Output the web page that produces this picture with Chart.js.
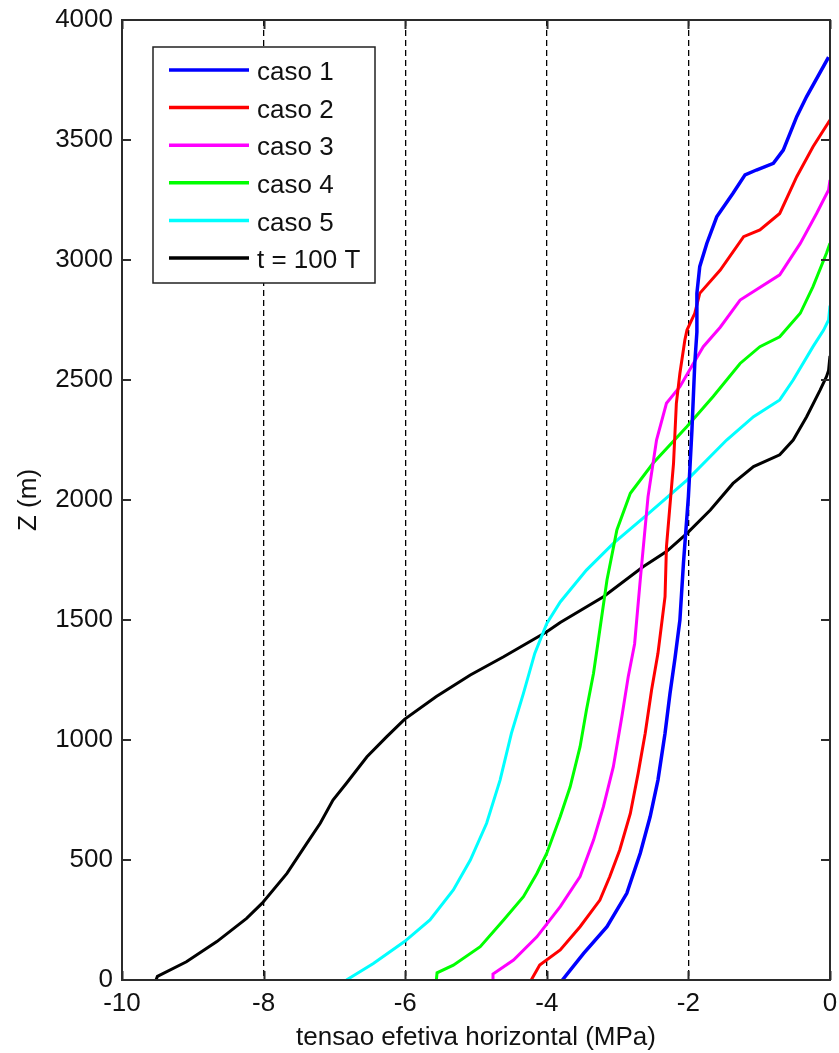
<!DOCTYPE html>
<html>
<head>
<meta charset="utf-8">
<script src="https://cdn.jsdelivr.net/npm/chart.js@4.4.1/dist/chart.umd.min.js"></script>
<style>
  html, body { margin: 0; padding: 0; background: #ffffff; }
  #plot { display: block; }
</style>
</head>
<body>
<canvas id="plot" width="839" height="1053"></canvas>
<script>
// Horizontal effective stress (MPa) against depth Z (m) for each case
const seriesLabels = ['caso 1', 'caso 2', 'caso 3', 'caso 4', 'caso 5', 't = 100 T'];
const seriesColors = ['#0000ff', '#ff0000', '#ff00ff', '#00ff00', '#00ffff', '#000000'];

const caso1X = [-3.78, -3.48, -3.15, -2.87, -2.68, -2.54, -2.43, -2.33, -2.26, -2.19, -2.12, -2.07, -2.00, -1.95, -1.91, -1.88, -1.88, -1.84, -1.74, -1.60, -1.37, -1.20, -1.04, -0.80, -0.66, -0.47, -0.33, -0.02];
const caso1Z = [0, 111, 222, 361, 528, 681, 833, 1028, 1194, 1340, 1500, 1736, 2014, 2292, 2569, 2700, 2861, 2972, 3069, 3180, 3278, 3355, 3375, 3403, 3458, 3597, 3681, 3845];

const caso2X = [-4.22, -4.10, -3.81, -3.53, -3.25, -3.11, -2.97, -2.82, -2.71, -2.61, -2.52, -2.43, -2.33, -2.31, -2.21, -2.17, -2.12, -2.05, -2.02, -1.91, -1.84, -1.55, -1.22, -0.99, -0.71, -0.47, -0.24, 0];
const caso2Z = [0, 62, 125, 222, 333, 431, 542, 694, 861, 1028, 1208, 1361, 1597, 1805, 2153, 2403, 2528, 2667, 2708, 2778, 2861, 2958, 3097, 3125, 3194, 3347, 3472, 3583];

const caso3X = [-4.77, -4.76, -4.47, -4.14, -3.81, -3.53, -3.34, -3.20, -3.06, -2.94, -2.85, -2.76, -2.68, -2.57, -2.45, -2.31, -2.12, -1.93, -1.79, -1.55, -1.27, -0.71, -0.42, -0.19, -0.02, 0];
const caso3Z = [0, 25, 83, 180, 306, 431, 583, 722, 889, 1097, 1264, 1400, 1667, 2014, 2250, 2403, 2472, 2569, 2639, 2720, 2833, 2938, 3069, 3194, 3292, 3333];

const caso4X = [-5.56, -5.55, -5.32, -4.94, -4.61, -4.33, -4.14, -4.00, -3.81, -3.67, -3.53, -3.44, -3.34, -3.28, -3.15, -3.01, -2.82, -2.50, -2.02, -1.65, -1.27, -0.99, -0.71, -0.42, -0.24, -0.05, 0];
const caso4Z = [0, 30, 62, 139, 250, 347, 444, 528, 681, 805, 972, 1125, 1278, 1400, 1667, 1875, 2028, 2153, 2306, 2431, 2569, 2639, 2680, 2778, 2889, 3028, 3070];

const caso5X = [-6.83, -6.45, -6.01, -5.65, -5.32, -5.08, -4.85, -4.66, -4.50, -4.33, -4.17, -4.00, -3.81, -3.44, -3.06, -2.59, -2.02, -1.46, -1.08, -0.71, -0.52, -0.24, -0.09, -0.02, 0];
const caso5Z = [0, 69, 160, 250, 375, 500, 653, 833, 1028, 1194, 1361, 1486, 1575, 1708, 1819, 1937, 2083, 2250, 2347, 2417, 2500, 2639, 2708, 2750, 2810];

const t100X = [-9.52, -9.50, -9.09, -8.66, -8.24, -8.02, -7.67, -7.39, -7.20, -7.02, -6.83, -6.54, -6.26, -6.01, -5.56, -5.08, -4.61, -4.00, -3.81, -3.20, -2.64, -2.31, -2.02, -1.69, -1.37, -1.08, -0.71, -0.52, -0.33, -0.14, -0.05, -0.02, 0];
const t100Z = [0, 15, 76, 160, 257, 320, 444, 569, 653, 750, 820, 930, 1014, 1086, 1181, 1271, 1347, 1451, 1490, 1597, 1722, 1785, 1861, 1958, 2069, 2139, 2188, 2250, 2347, 2458, 2514, 2540, 2600];

const seriesX = [caso1X, caso2X, caso3X, caso4X, caso5X, t100X];
const seriesZ = [caso1Z, caso2Z, caso3Z, caso4Z, caso5Z, t100Z];

const xRange = [-10, 0];
const zRange = [0, 4000];
const xStep = 2;
const zStep = 500;

const textColor = '#111111';
const axisColor = '#2b2b2b';
const fontFamily = "'Liberation Sans', Arial, Helvetica, sans-serif";

const datasets = seriesLabels.map((label, i) => ({
  label: label,
  data: seriesX[i].map((x, k) => ({ x: x, y: seriesZ[i][k] })),
  showLine: true,
  borderColor: seriesColors[i],
  backgroundColor: seriesColors[i],
  borderWidth: i === 0 ? 3.5 : 3,
  pointRadius: 0,
  tension: 0,
  fill: false
}));

// Axes box with inward tick marks on all four sides
const frameAndTicks = {
  id: 'frameAndTicks',
  afterDatasetsDraw(chart) {
    const { ctx, chartArea: a, scales } = chart;
    const len = 9;
    ctx.save();
    ctx.strokeStyle = axisColor;
    ctx.lineWidth = 2;
    ctx.setLineDash([]);
    ctx.beginPath();
    scales.x.ticks.forEach(t => {
      const px = Math.round(scales.x.getPixelForValue(t.value)) + 0.5;
      ctx.moveTo(px, a.bottom); ctx.lineTo(px, a.bottom - len);
      ctx.moveTo(px, a.top); ctx.lineTo(px, a.top + len);
    });
    scales.y.ticks.forEach(t => {
      const py = Math.round(scales.y.getPixelForValue(t.value));
      ctx.moveTo(a.left, py); ctx.lineTo(a.left + len, py);
      ctx.moveTo(a.right, py); ctx.lineTo(a.right - len, py);
    });
    ctx.stroke();
    ctx.strokeRect(a.left, a.top, a.right - a.left, a.bottom - a.top);
    ctx.restore();
  }
};

// Boxed legend in the upper-left corner of the plot area
const boxedLegend = {
  id: 'boxedLegend',
  afterDraw(chart) {
    const { ctx, chartArea: a } = chart;
    const left = a.left + 31, top = a.top + 27, width = 222, height = 236;
    const rowGap = 37.6, firstRow = top + 23;
    ctx.save();
    ctx.fillStyle = '#ffffff';
    ctx.fillRect(left, top, width, height);
    ctx.strokeStyle = '#222222';
    ctx.lineWidth = 1.5;
    ctx.setLineDash([]);
    ctx.strokeRect(left, top, width, height);
    ctx.font = '26px ' + fontFamily;
    ctx.textBaseline = 'middle';
    ctx.textAlign = 'left';
    chart.data.datasets.forEach((ds, i) => {
      const y = firstRow + i * rowGap;
      ctx.strokeStyle = ds.borderColor;
      ctx.lineWidth = 3.5;
      ctx.beginPath();
      ctx.moveTo(left + 16, y);
      ctx.lineTo(left + 96, y);
      ctx.stroke();
      ctx.fillStyle = textColor;
      ctx.fillText(ds.label, left + 104, y + 3);
    });
    ctx.restore();
  }
};

new Chart(document.getElementById('plot'), {
  type: 'scatter',
  data: { datasets: datasets },
  options: {
    responsive: false,
    animation: false,
    layout: { padding: { top: 20, right: 9, left: 0, bottom: 0 } },
    plugins: {
      legend: { display: false },
      tooltip: { enabled: false }
    },
    scales: {
      x: {
        type: 'linear',
        min: xRange[0],
        max: xRange[1],
        afterFit(scale) {
          scale.height = 73;
          scale.paddingLeft = 0;
          scale.paddingRight = 0;
        },
        ticks: {
          stepSize: xStep,
          padding: 8,
          color: textColor,
          font: { family: fontFamily, size: 26 },
          maxRotation: 0,
          callback: v => String(v)
        },
        grid: {
          drawTicks: false,
          lineWidth: 1.3,
          color: c => (c.tick && c.tick.value > xRange[0] && c.tick.value < xRange[1]) ? '#000000' : 'rgba(0,0,0,0)'
        },
        border: { display: false, dash: [6, 4] },
        title: {
          display: true,
          text: 'tensao efetiva horizontal (MPa)',
          color: textColor,
          font: { family: fontFamily, size: 26 },
          padding: { top: 0, bottom: 0 }
        }
      },
      y: {
        type: 'linear',
        min: zRange[0],
        max: zRange[1],
        afterFit(scale) {
          scale.width = 122;
          scale.paddingTop = 0;
          scale.paddingBottom = 0;
        },
        ticks: {
          stepSize: zStep,
          padding: 9,
          color: textColor,
          font: { family: fontFamily, size: 26 },
          callback: v => String(v)
        },
        grid: { display: false, drawTicks: false },
        border: { display: false },
        title: {
          display: true,
          text: 'Z (m)',
          color: textColor,
          font: { family: fontFamily, size: 26 },
          padding: { top: 13, bottom: 0 }
        }
      }
    }
  },
  plugins: [frameAndTicks, boxedLegend]
});
</script>
</body>
</html>
